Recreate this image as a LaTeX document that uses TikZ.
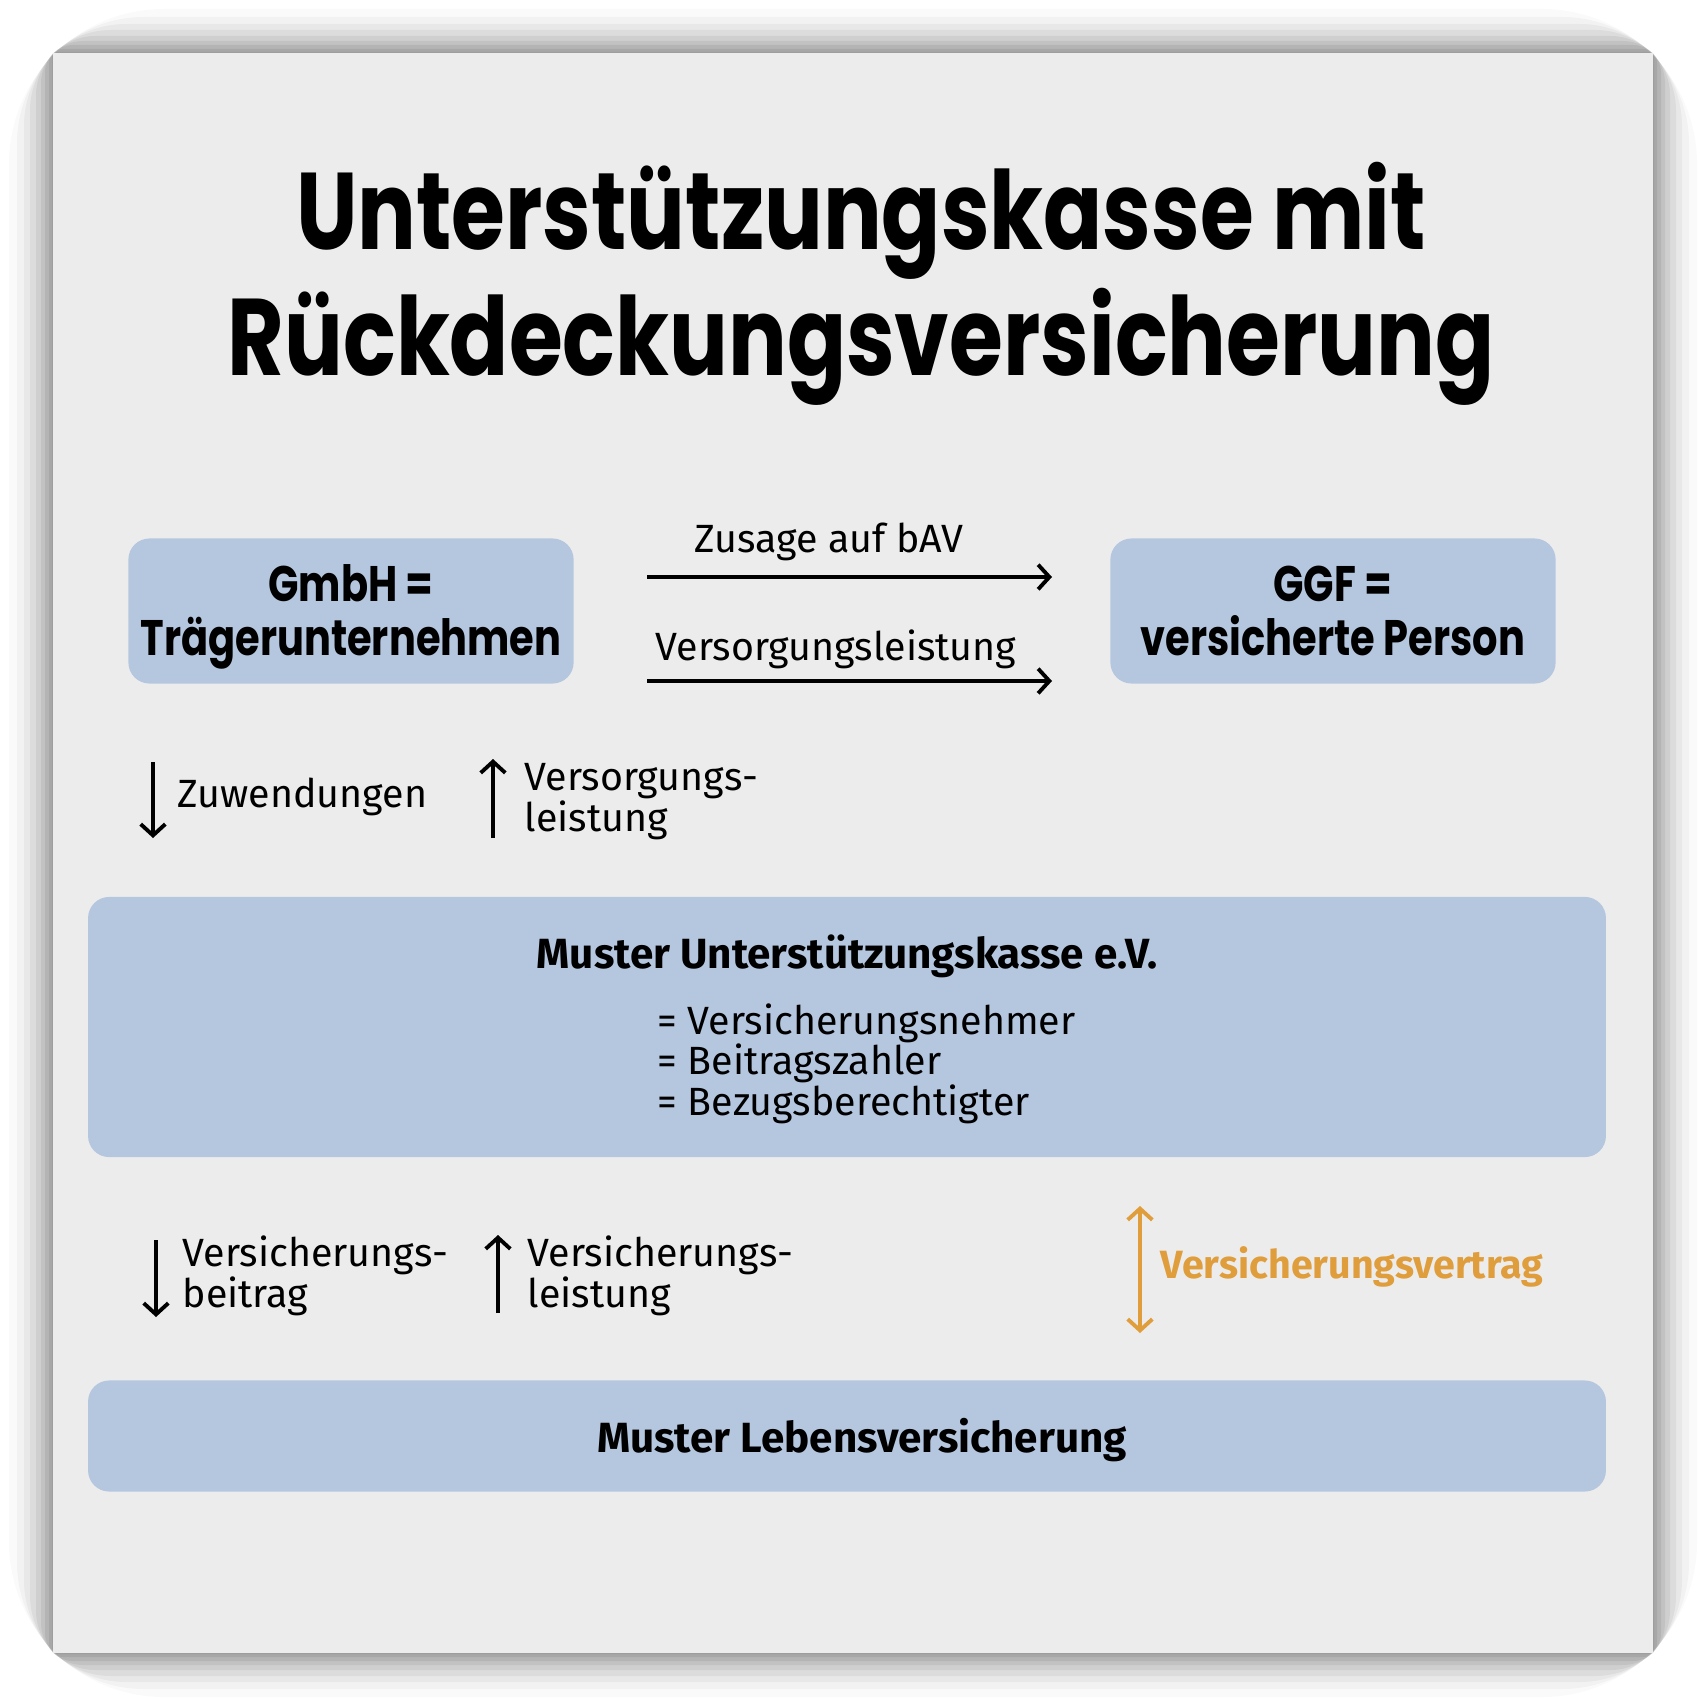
\documentclass[tikz,border=0pt]{standalone}
\usepackage{fontspec}
\setmainfont{Fira Sans}
\newfontfamily\spartan{Poppins}[FakeStretch=0.8]
\usetikzlibrary{positioning,arrows.meta}

\definecolor{cardgray}{HTML}{ECECEC}
\definecolor{boxblue}{HTML}{B5C6DF}
\definecolor{vertrag}{HTML}{DF9D3C}

\tikzset{
	ukpicture/.style = {
		x = 0.01cm,
		y = -0.01cm,
		arrow/.style = {
			draw,
			-{Straight Barb[length=3.2pt,width=7pt]},
			line width = 1.1pt,
		}
	},
	ukbox/.style = {
		rounded corners = 6pt,
		fill = boxblue,
		inner sep = 0pt
	},
	ukhead/.style = {
		font = \spartan\bfseries\fontsize{14.2}{15.5}\selectfont,
		align = center
	},
	uktitle/.style = {
		font = \spartan\bfseries\fontsize{31}{36}\selectfont,
		anchor = base
	},
	uklabel/.style = {
		font = \fontsize{11.2}{11.4}\selectfont,
		align = left,
		inner sep = 0pt
	},
	ukbold/.style = {
		font = \bfseries\fontsize{12}{13}\selectfont,
		inner sep = 0pt
	},
	vertrag-arrow/.style = {
		draw = vertrag,
		{Straight Barb[length=3.2pt,width=7pt]}-{Straight Barb[length=3.2pt,width=7pt]}
	}
}

\begin{document}
\begin{tikzpicture}[ukpicture]
	\useasboundingbox (0,0) rectangle (1706,1706);
	\fill[white] (0,0) rectangle (1706,1706);

	% soft shadow round the card
	\foreach \d/\o in {44/0.02, 36/0.03, 29/0.04, 23/0.05, 17/0.06, 12/0.06, 8/0.07, 4/0.07, 1/0.05}
		\fill[black, opacity = \o, rounded corners = \d] (53-\d,53-\d) rectangle (1653+\d,1653+\d);
	\fill[cardgray] (53,53) rectangle (1653,1653);

	\node[uktitle] (T1) at (861,250) {Unterstützungskasse mit};
	\node[uktitle] (T2) at (861,375) {Rückdeckungsversicherung};

	\node[ukbox, minimum width = 4.45cm, minimum height = 1.45cm] (GmbH) at (351,611) {};
	\node[ukhead] (GmbHtext) at (351,617) {GmbH =\\Trägerunternehmen};
	\node[ukbox, minimum width = 4.45cm, minimum height = 1.45cm, ukhead] (GGF) at (1333,611) {GGF =\\versicherte Person};

	\node[uklabel, anchor = base] (zusage) at (829,552) {Zusage auf bAV};
	\node[uklabel, anchor = base] (leistung) at (836,660) {Versorgungsleistung};

	\coordinate (z1) at (647,577);
	\coordinate (z2) at (1052,577);
	\coordinate (l1) at (647,681);
	\coordinate (l2) at (1052,681);

	\node[ukbox, minimum width = 15.17cm, minimum height = 2.6cm] (UK) at (847,1027) {};
	\node[ukbold, anchor = base] (UKname) at (847,968) {Muster Unterstützungskasse e.V.};
	\node[uklabel, anchor = base west] (UKrole) at (657,1115) {= Versicherungsnehmer\\= Beitragszahler\\= Bezugsberechtigter};

	\node[ukbox, minimum width = 15.17cm, minimum height = 1.11cm] (LV) at (847,1436) {};
	\node[ukbold, anchor = base] (LVname) at (862,1452) {Muster Lebensversicherung};

	\node[uklabel, anchor = base west] (zuw) at (177,807) {Zuwendungen};
	\node[uklabel, anchor = base west] (vl) at (524,831) {Versorgungs-\\leistung};
	\node[uklabel, anchor = base west] (vb) at (182,1307) {Versicherungs-\\beitrag};
	\node[uklabel, anchor = base west] (vs) at (527,1307) {Versicherungs-\\leistung};
	\node[ukbold, anchor = base west, text = vertrag, font = \bfseries\fontsize{11.2}{12}\selectfont] (vv) at (1160,1278) {Versicherungsvertrag};

	\coordinate (a1) at (153,762);
	\coordinate (a2) at (153,838);
	\coordinate (b1) at (493,838);
	\coordinate (b2) at (493,759);
	\coordinate (c1) at (156,1240);
	\coordinate (c2) at (156,1317);
	\coordinate (d1) at (498,1313);
	\coordinate (d2) at (498,1235);
	\coordinate (e1) at (1140,1206);
	\coordinate (e2) at (1140,1333);

	\begin{scope}[every path/.style = arrow]
		\path (z1) to (z2);
		\path (l1) to (l2);
		\path (a1) to (a2);
		\path (b1) to (b2);
		\path (c1) to (c2);
		\path (d1) to (d2);
		\path[vertrag-arrow] (e1) to (e2);
	\end{scope}
\end{tikzpicture}
\end{document}
